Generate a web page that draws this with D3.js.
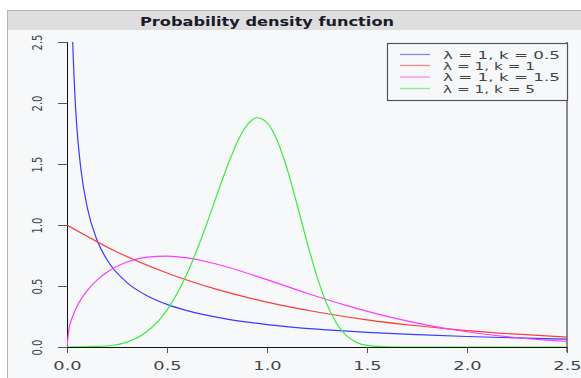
<!DOCTYPE html>
<html><head><meta charset="utf-8">
<script src="https://cdn.jsdelivr.net/npm/d3@7"></script>
<style>body{margin:0;background:#fff}svg{display:block}</style>
</head><body>
<script>
const title = "Probability density function";
const xTicks = [0, 0.5, 1.0, 1.5, 2.0, 2.5];
const yTicks = [0, 0.5, 1.0, 1.5, 2.0, 2.5];
const seriesNames = ["λ = 1, k = 0.5", "λ = 1, k = 1", "λ = 1, k = 1.5", "λ = 1, k = 5"];
const seriesColors = ["#3a3aff", "#ff3a3a", "#ff3aff", "#3aee3a"];
const xK05 = [0.027,0.03,0.04,0.05,0.07,0.1,0.15,0.2,0.3,0.4,0.5,0.6,0.8,1.0,1.25,1.5,1.75,2.0,2.25,2.5];
const yK05 = [2.582,2.428,2.047,1.788,1.451,1.153,0.877,0.715,0.528,0.420,0.349,0.298,0.229,0.184,0.146,0.120,0.101,0.086,0.074,0.065];
const xK1 = [0,0.25,0.5,0.75,1.0,1.25,1.5,1.75,2.0,2.25,2.5];
const yK1 = [1.0,0.779,0.607,0.472,0.368,0.287,0.223,0.174,0.135,0.105,0.082];
const xK15 = [0,0.01,0.025,0.05,0.1,0.15,0.2,0.3,0.4,0.5,0.6,0.7,0.8,1.0,1.2,1.4,1.6,1.8,2.0,2.2,2.4,2.5];
const yK15 = [0,0.150,0.236,0.332,0.460,0.548,0.613,0.697,0.737,0.745,0.730,0.699,0.656,0.552,0.441,0.339,0.251,0.180,0.125,0.085,0.056,0.046];
const xK5 = [0,0.2,0.3,0.4,0.5,0.6,0.7,0.75,0.8,0.85,0.9,0.95,1.0,1.05,1.1,1.15,1.2,1.25,1.3,1.35,1.4,1.45,1.5,1.6,1.7,2.0,2.5];
const yK5 = [0,0.008,0.040,0.127,0.303,0.600,1.015,1.248,1.476,1.675,1.818,1.879,1.839,1.696,1.463,1.170,0.861,0.577,0.349,0.188,0.089,0.036,0.013,0.001,0,0,0];

const W = 581, H = 378;
const svg = d3.select("body").append("svg").attr("width", W).attr("height", H);
// panel
svg.append("rect").attr("x", 7.5).attr("y", 10.5).attr("width", W).attr("height", H)
  .attr("fill", "#f7f8fa").attr("stroke", "#b4b4b4");
svg.append("rect").attr("x", 8).attr("y", 11).attr("width", W).attr("height", 19).attr("fill", "#dedede");
svg.append("text").attr("x", 267).attr("y", 26).attr("text-anchor", "middle")
  .attr("font-family", "DejaVu Sans").attr("font-weight", "bold").attr("font-size", 13)
  .attr("fill", "#1a1a2a").attr("textLength", 254).attr("lengthAdjust", "spacingAndGlyphs").text(title);

const x = d3.scaleLinear().domain([0, 2.5]).range([67, 567]);
const y = d3.scaleLinear().domain([0, 2.5]).range([347, 42]);

// right gray border
svg.append("line").attr("x1", 567).attr("x2", 567).attr("y1", 42).attr("y2", 352)
  .attr("stroke", "#8a8a8a").attr("stroke-width", 2);

// x axis
const gx = svg.append("g").attr("transform", "translate(0,347)")
  .call(d3.axisBottom(x).tickValues(xTicks).tickSize(6).tickFormat(d3.format(".1f")));
gx.select(".domain").attr("stroke", "#111");
gx.selectAll(".tick line").attr("stroke", "#555");
gx.selectAll(".tick text").attr("font-family", "DejaVu Sans")
  .attr("font-size", 11.5).attr("fill", "#444").attr("y", 0).attr("dy", 0)
  .attr("transform", "translate(0,23) scale(1.55,1)");

// y axis
const gy = svg.append("g").attr("transform", "translate(67,0)")
  .call(d3.axisLeft(y).tickValues(yTicks).tickSize(9).tickFormat(d3.format(".1f")));
gy.select(".domain").attr("stroke", "#111");
gy.selectAll(".tick line").attr("stroke", "#555");
gy.selectAll(".tick text").attr("font-family", "DejaVu Sans")
  .attr("font-size", 10).attr("fill", "#444").attr("x", 0).attr("dy", 0)
  .attr("text-anchor", "middle")
  .attr("transform", "translate(-25,0) scale(1.45,1) rotate(-90)");

svg.append("clipPath").attr("id", "clip").append("rect")
  .attr("x", 67).attr("y", 42).attr("width", 500).attr("height", 305);

const series = [[xK05, yK05], [xK1, yK1], [xK15, yK15], [xK5, yK5]];
const line = d3.line().x(d => x(d[0])).y(d => y(d[1])).curve(d3.curveMonotoneX);
const gl = svg.append("g").attr("clip-path", "url(#clip)");
series.forEach((s, i) => {
  const pts = s[0].map((v, j) => [v, s[1][j]]);
  gl.append("path").datum(pts).attr("d", line).attr("fill", "none")
    .attr("stroke", seriesColors[i]).attr("stroke-width", 1.2);
});

// legend
const lg = svg.append("g");
lg.append("rect").attr("x", 387.5).attr("y", 43.5).attr("width", 180).attr("height", 57)
  .attr("fill", "#f7f8fa").attr("stroke", "#555").attr("stroke-width", 1.2);
const rowY = [54.5, 65.5, 77, 88.5];
const lens = [117, 92, 117, 92];
seriesNames.forEach((n, i) => {
  lg.append("line").attr("x1", 400).attr("x2", 430).attr("y1", rowY[i]).attr("y2", rowY[i])
    .attr("stroke", seriesColors[i]).attr("stroke-width", 1.3).attr("opacity", 0.6);
  lg.append("text").attr("x", 443).attr("y", rowY[i] + 4)
    .attr("font-family", "DejaVu Sans").attr("font-size", 10)
    .attr("fill", "#444").attr("textLength", lens[i]).attr("lengthAdjust", "spacingAndGlyphs")
    .text(n);
});
</script>
</body></html>
